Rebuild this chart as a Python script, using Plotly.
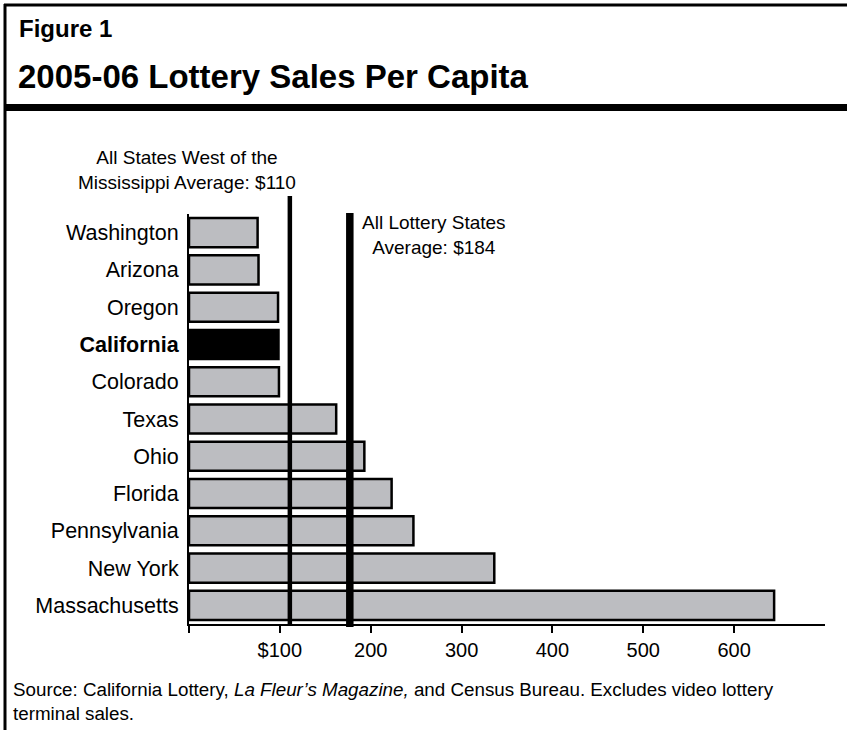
import plotly.graph_objects as go

# ---- data ----
states = ["Washington", "Arizona", "Oregon", "California", "Colorado", "Texas",
          "Ohio", "Florida", "Pennsylvania", "New York", "Massachusetts"]
sales = [75.5, 76.5, 98, 98.5, 99, 162, 193, 223, 247, 336, 644]
highlight = "California"
tick_vals = [0, 100, 200, 300, 400, 500, 600]
tick_text = ["", "$100", "200", "300", "400", "500", "600"]
avg_labels = ["All States West of the<br>Mississippi Average: $110",
              "All Lottery States<br>Average: $184"]
avg_line_pos = [111, 177]

# ---- layout geometry (pixels) ----
W, H = 847, 730
L, R, T, B = 189, 825, 214, 624
FONT = "Liberation Sans, Arial, Helvetica, sans-serif"


def px_x(px):
    return (px - L) / (R - L)


def px_y(py):
    return (B - py) / (B - T)


colors = ["#000000" if s == highlight else "#bcbdc1" for s in states]
ticklabels = [f"<b>{s}</b>" if s == highlight else s for s in states]

fig = go.Figure(go.Bar(
    x=sales, y=states, orientation="h",
    marker=dict(color=colors, line=dict(color="#000000", width=2.5)),
    width=0.78, hoverinfo="x+y",
))

shapes = []
# average lines
shapes.append(dict(type="line", xref="x", yref="paper", x0=avg_line_pos[0], x1=avg_line_pos[0],
                   y0=px_y(625), y1=px_y(196), line=dict(color="black", width=4.5)))
shapes.append(dict(type="line", xref="x", yref="paper", x0=avg_line_pos[1], x1=avg_line_pos[1],
                   y0=px_y(627), y1=px_y(213), line=dict(color="black", width=7.5)))
# frame
shapes.append(dict(type="line", xref="paper", yref="paper", x0=px_x(4), x1=px_x(W + 2),
                   y0=px_y(5), y1=px_y(5), line=dict(color="black", width=3)))
shapes.append(dict(type="line", xref="paper", yref="paper", x0=px_x(5), x1=px_x(5),
                   y0=px_y(4), y1=px_y(H + 2), line=dict(color="black", width=3)))
shapes.append(dict(type="rect", xref="paper", yref="paper", x0=px_x(4), x1=px_x(W + 2),
                   y0=px_y(104), y1=px_y(111), fillcolor="black", line=dict(width=0)))

annotations = [
    dict(xref="paper", yref="paper", x=px_x(17), y=px_y(28), xanchor="left", yanchor="middle",
         text="<b>Figure 1</b>", showarrow=False, font=dict(family=FONT, size=24, color="black")),
    dict(xref="paper", yref="paper", x=px_x(16), y=px_y(77), xanchor="left", yanchor="middle",
         text="<b>2005-06 Lottery Sales Per Capita</b>", showarrow=False,
         font=dict(family=FONT, size=33, color="black")),
    dict(xref="paper", yref="paper", x=px_x(187), y=px_y(170), xanchor="center", yanchor="middle",
         text=avg_labels[0], showarrow=False, align="center",
         font=dict(family=FONT, size=19, color="black")),
    dict(xref="paper", yref="paper", x=px_x(434), y=px_y(235), xanchor="center", yanchor="middle",
         text=avg_labels[1], showarrow=False, align="center",
         font=dict(family=FONT, size=19, color="black")),
    dict(xref="paper", yref="paper", x=px_x(11), y=px_y(701), xanchor="left", yanchor="middle",
         text="Source: California Lottery, <i>La Fleur\u2019s Magazine,</i> and Census Bureau. "
              "Excludes video lottery<br>terminal sales.",
         showarrow=False, align="left", font=dict(family=FONT, size=18.8, color="black")),
]

fig.update_layout(
    width=W, height=H,
    margin=dict(l=L, r=W - R, t=T, b=H - B, pad=0),
    paper_bgcolor="white", plot_bgcolor="white",
    showlegend=False,
    shapes=shapes, annotations=annotations,
    font=dict(family=FONT, color="black"),
    xaxis=dict(range=[0, 700], tickvals=tick_vals, ticktext=tick_text,
               showline=True, linecolor="black", linewidth=2,
               ticks="outside", ticklen=7, tickwidth=2, tickcolor="black",
               showgrid=False, zeroline=False, fixedrange=True,
               tickfont=dict(family=FONT, size=20, color="black")),
    yaxis=dict(autorange="reversed", tickvals=states, ticktext=ticklabels,
               showline=True, linecolor="black", linewidth=2, ticks="",
               showgrid=False, zeroline=False, fixedrange=True, ticklabelstandoff=4,
               tickfont=dict(family=FONT, size=21.5, color="black")),
)

fig.write_html("out.html", config={"displayModeBar": False},
               post_script="document.body.style.margin='0';")
